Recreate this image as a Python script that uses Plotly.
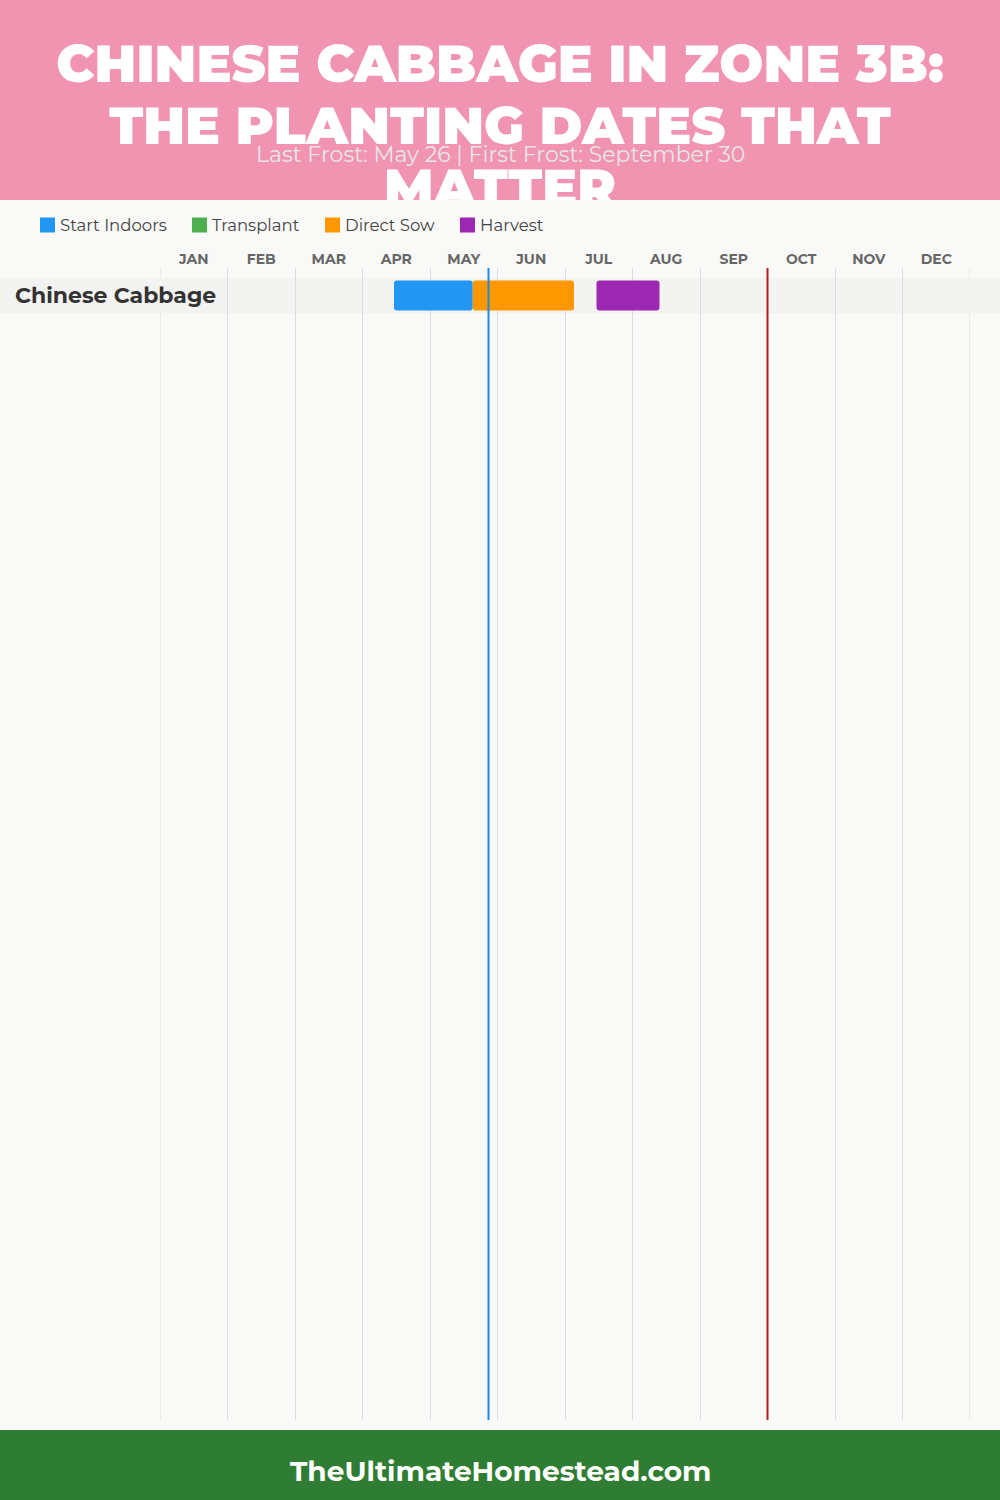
import plotly.graph_objects as go

# ---------------- data ----------------
title_lines = ["CHINESE CABBAGE IN ZONE 3B:", "THE PLANTING DATES THAT", "MATTER"]
subtitle = "Last Frost: May 26 | First Frost: September 30"
footer = "TheUltimateHomestead.com"

months = ["JAN", "FEB", "MAR", "APR", "MAY", "JUN", "JUL", "AUG", "SEP", "OCT", "NOV", "DEC"]
crops = ["Chinese Cabbage"]

legend_names = ["Start Indoors", "Transplant", "Direct Sow", "Harvest"]
legend_colors = ["#2196F3", "#4CAF50", "#FF9800", "#9C27B0"]

# phases per crop: (phase, start (month, day), end (month, day))
phase_crop = ["Chinese Cabbage", "Chinese Cabbage", "Chinese Cabbage"]
phase_name = ["Start Indoors", "Direct Sow", "Harvest"]
phase_start = [(4, 14), (5, 19), (7, 14)]
phase_end = [(5, 19), (7, 4), (8, 12)]

last_frost = (5, 26)
first_frost = (9, 30)


def mpos(md):
    m, d = md
    return (m - 1) + d / 30.0


W, H = 1000, 1500
HEADER = 200
PLOT_TOP, PLOT_BOT = 268, 1420
ROW_H = 35
FIRST_ROW_CENTER = 295.5
FOOTER_H = 70
TITLE_LINE_Y = [69, 131, 193]
FONT = "Montserrat, Open Sans, sans-serif"

fig = go.Figure()

color_of = dict(zip(legend_names, legend_colors))
for name in phase_name:
    idx = [i for i, n in enumerate(phase_name) if n == name]
    fig.add_trace(go.Bar(
        orientation="h",
        y=[crops.index(phase_crop[i]) for i in idx],
        base=[mpos(phase_start[i]) for i in idx],
        x=[mpos(phase_end[i]) - mpos(phase_start[i]) for i in idx],
        marker=dict(color=color_of[name], line=dict(width=0)),
        width=30 / ROW_H,
        name=name,
        showlegend=False,
        hoverinfo="skip",
    ))

# title as clipped text in a header subplot
fig.add_trace(go.Scatter(
    x=[W / 2] * len(title_lines), y=TITLE_LINE_Y[:len(title_lines)], mode="text",
    text=title_lines,
    textposition="middle center",
    textfont=dict(family=FONT, size=52, color="white", weight=900),
    xaxis="x2", yaxis="y2", cliponaxis=True, showlegend=False, hoverinfo="skip",
))

top_off = (FIRST_ROW_CENTER - PLOT_TOP) / ROW_H
bot_off = (PLOT_BOT - FIRST_ROW_CENTER) / ROW_H

shapes = []
annotations = []

# header background
shapes.append(dict(type="rect", xref="paper", yref="paper", x0=0, x1=1,
                   y0=1 - HEADER / H, y1=1, fillcolor="#F094B2", line=dict(width=0), layer="below"))
# footer background
shapes.append(dict(type="rect", xref="paper", yref="paper", x0=0, x1=1,
                   y0=0, y1=FOOTER_H / H, fillcolor="#2E7D32", line=dict(width=0), layer="below"))

# edge grid lines (plotly hides grid lines that sit on the range edges)
for edge in (0, len(months)):
    shapes.append(dict(type="line", xref="x", yref="y domain", x0=edge, x1=edge, y0=0, y1=1,
                       line=dict(color="#DDDDDD", width=1), layer="below"))

# row bands and labels
for i, c in enumerate(crops):
    shapes.append(dict(type="rect", xref="paper", yref="y", x0=0, x1=1,
                       y0=i - 0.5, y1=i + 0.5, fillcolor="#F3F3F1", line=dict(width=0), layer="between"))
    annotations.append(dict(text=c, xref="paper", yref="y", x=13 / W, y=i, xanchor="left",
                            yanchor="middle", showarrow=False,
                            font=dict(family=FONT, size=22, color="#333333", weight=700)))

# frost lines
for md, col in [(last_frost, "#1E88E5"), (first_frost, "#B71C1C")]:
    shapes.append(dict(type="line", xref="x", yref="y domain", x0=mpos(md), x1=mpos(md),
                       y0=0, y1=1, line=dict(color=col, width=2), layer="above"))

# manual legend
leg_x = [40, 192, 325, 460]
leg_y = 225
for lx, n, col in zip(leg_x, legend_names, legend_colors):
    shapes.append(dict(type="rect", xref="paper", yref="paper",
                       x0=lx / W, x1=(lx + 15) / W, y0=1 - (leg_y + 7.5) / H, y1=1 - (leg_y - 7.5) / H,
                       fillcolor=col, line=dict(width=0)))
    annotations.append(dict(text=n, xref="paper", yref="paper", x=(lx + 18) / W, y=1 - leg_y / H,
                            xanchor="left", yanchor="middle", showarrow=False,
                            font=dict(family=FONT, size=16.5, color="#444444")))

annotations.append(dict(text=subtitle, xref="paper", yref="paper", x=0.5, y=1 - 155 / H,
                        xanchor="center", yanchor="middle", showarrow=False,
                        font=dict(family=FONT, size=22, color="#E6E6E6")))
annotations.append(dict(text=footer, xref="paper", yref="paper", x=0.5, y=29 / H,
                        xanchor="center", yanchor="middle", showarrow=False,
                        font=dict(family=FONT, size=28, color="white", weight=700)))

fig.update_layout(
    width=W, height=H,
    margin=dict(l=0, r=0, t=0, b=0),
    paper_bgcolor="#F9F9F7",
    plot_bgcolor="rgba(0,0,0,0)",
    barmode="overlay",
    barcornerradius=3,
    showlegend=False,
    shapes=shapes,
    annotations=annotations,
    xaxis=dict(
        domain=[160 / W, 970 / W], range=[0, 12], side="top",
        tickvals=[i + 0.5 for i in range(12)], ticktext=months, ticks="",
        tickfont=dict(family=FONT, size=14, color="#666666", weight=700),
        showgrid=False, zeroline=False, showline=False,
        minor=dict(tickvals=list(range(13)), showgrid=True, gridcolor="#DDDDDD", gridwidth=1, ticks=""),
        fixedrange=True,
    ),
    yaxis=dict(
        domain=[1 - PLOT_BOT / H, 1 - PLOT_TOP / H],
        range=[bot_off, -top_off],
        showgrid=False, zeroline=False, showticklabels=False, showline=False, fixedrange=True,
    ),
    xaxis2=dict(domain=[0, 1], range=[0, W], visible=False, anchor="y2", fixedrange=True),
    yaxis2=dict(domain=[1 - HEADER / H, 1], range=[HEADER, 0], visible=False, anchor="x2", fixedrange=True),
)

fig.write_html("out.html", config={"displayModeBar": False},
               post_script="document.body.style.margin='0';")
